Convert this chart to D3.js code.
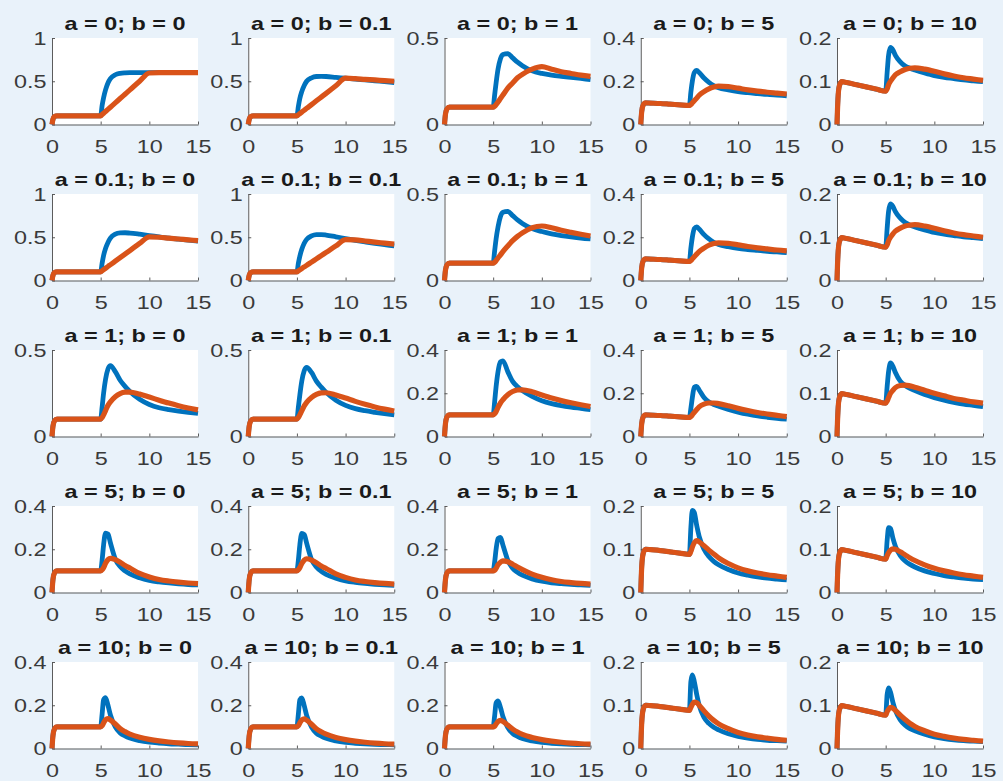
<!DOCTYPE html>
<html><head><meta charset="utf-8">
<script src="https://cdn.jsdelivr.net/npm/d3@7"></script>
<style>
body{margin:0;background:#e9f2fa;}
svg{display:block;}
</style>
</head><body>
<svg id="chart" width="1003" height="781"></svg>
<script>
// ---------------- data ----------------
const aValues = [0, 0.1, 1, 5, 10];
const bValues = [0, 0.1, 1, 5, 10];
const time = [0, 0.1, 0.25, 0.5, 1, 2, 3, 4, 5, 5.15, 5.3, 5.5, 5.75, 6, 6.5, 7, 7.5, 8, 9, 10, 11, 12, 13, 14, 15];
const xTicks = [0, 5, 10, 15];
const yTickSets = [[0, 0.5, 1], [0, 0.5], [0, 0.2, 0.4], [0, 0.1, 0.2]];
const yMaxA0 = [1, 1, 0.5, 0.4, 0.2];
const yMaxA01 = [1, 1, 0.5, 0.4, 0.2];
const yMaxA1 = [0.5, 0.5, 0.4, 0.4, 0.2];
const yMaxA5 = [0.4, 0.4, 0.4, 0.2, 0.2];
const yMaxA10 = [0.4, 0.4, 0.4, 0.2, 0.2];

// values before t = 5 (indices 0..8)
const earlyFlat = [0, 0.06, 0.09, 0.1, 0.1, 0.1, 0.1, 0.1, 0.1];
const earlyB5 = [0, 0.06, 0.09, 0.1, 0.099, 0.097, 0.094, 0.091, 0.088];
const earlyB10 = [0, 0.06, 0.09, 0.099, 0.097, 0.092, 0.087, 0.082, 0.077];

// a = 0
const blueA0 = [
  earlyFlat.concat([0.22,0.31,0.4,0.48,0.53,0.575,0.592,0.598,0.6,0.6,0.6,0.6,0.6,0.6,0.6,0.6]),
  earlyFlat.concat([0.21,0.3,0.38,0.45,0.5,0.54,0.555,0.557,0.555,0.545,0.535,0.525,0.515,0.505,0.495,0.485]),
  earlyFlat.concat([0.17,0.24,0.32,0.38,0.405,0.41,0.385,0.36,0.34,0.31,0.295,0.285,0.278,0.272,0.266,0.26]),
  earlyB5.concat([0.15,0.2,0.24,0.25,0.24,0.215,0.195,0.18,0.17,0.16,0.152,0.147,0.143,0.139,0.136,0.133]),
  earlyB10.concat([0.12,0.16,0.178,0.172,0.16,0.145,0.135,0.13,0.126,0.119,0.113,0.109,0.106,0.103,0.101,0.099])
];
const orangeA0 = [
  earlyFlat.concat([0.115,0.13,0.15,0.175,0.2,0.25,0.3,0.35,0.4,0.5,0.595,0.6,0.6,0.6,0.6,0.6]),
  earlyFlat.concat([0.113,0.126,0.143,0.165,0.187,0.23,0.274,0.317,0.36,0.448,0.535,0.53,0.522,0.515,0.507,0.5]),
  earlyFlat.concat([0.105,0.115,0.13,0.15,0.17,0.21,0.24,0.27,0.29,0.32,0.335,0.32,0.305,0.295,0.285,0.278]),
  earlyB5.concat([0.092,0.1,0.11,0.122,0.135,0.152,0.165,0.173,0.177,0.175,0.168,0.16,0.154,0.149,0.145,0.141]),
  earlyB10.concat([0.082,0.092,0.1,0.108,0.115,0.122,0.127,0.13,0.131,0.128,0.123,0.117,0.112,0.108,0.105,0.102])
];
// a = 0.1
const blueA01 = [
  earlyFlat.concat([0.2,0.29,0.37,0.44,0.49,0.535,0.55,0.552,0.548,0.535,0.52,0.505,0.49,0.478,0.466,0.455]),
  earlyFlat.concat([0.2,0.28,0.36,0.43,0.475,0.515,0.53,0.53,0.525,0.505,0.485,0.465,0.447,0.43,0.415,0.4]),
  earlyFlat.concat([0.17,0.24,0.31,0.37,0.395,0.4,0.375,0.35,0.33,0.3,0.283,0.27,0.26,0.252,0.245,0.24]),
  earlyB5.concat([0.15,0.2,0.24,0.248,0.238,0.212,0.192,0.177,0.167,0.156,0.148,0.143,0.139,0.135,0.132,0.129]),
  earlyB10.concat([0.12,0.16,0.177,0.171,0.159,0.144,0.134,0.128,0.124,0.117,0.111,0.107,0.104,0.101,0.099,0.097])
];
const orangeA01 = [
  earlyFlat.concat([0.112,0.125,0.141,0.162,0.182,0.223,0.264,0.305,0.346,0.428,0.505,0.5,0.49,0.48,0.47,0.46]),
  earlyFlat.concat([0.111,0.122,0.138,0.157,0.175,0.213,0.25,0.288,0.325,0.4,0.472,0.47,0.457,0.444,0.432,0.42]),
  earlyFlat.concat([0.105,0.115,0.13,0.148,0.167,0.2,0.23,0.255,0.275,0.305,0.315,0.305,0.29,0.278,0.267,0.257]),
  earlyB5.concat([0.092,0.1,0.11,0.122,0.134,0.15,0.163,0.171,0.174,0.172,0.165,0.157,0.151,0.146,0.141,0.137]),
  earlyB10.concat([0.082,0.092,0.1,0.108,0.114,0.121,0.126,0.128,0.129,0.126,0.121,0.115,0.11,0.106,0.103,0.1])
];
// a = 1
const blueA1 = [
  earlyFlat.concat([0.17,0.25,0.33,0.39,0.41,0.375,0.325,0.29,0.26,0.215,0.185,0.166,0.155,0.147,0.14,0.134]),
  earlyFlat.concat([0.17,0.24,0.32,0.38,0.4,0.37,0.32,0.285,0.255,0.21,0.18,0.161,0.149,0.14,0.132,0.125]),
  earlyFlat.concat([0.16,0.23,0.3,0.345,0.35,0.3,0.255,0.23,0.212,0.185,0.165,0.152,0.143,0.136,0.13,0.124]),
  earlyB5.concat([0.13,0.18,0.228,0.232,0.215,0.18,0.16,0.148,0.14,0.125,0.113,0.103,0.095,0.089,0.084,0.08]),
  earlyB10.concat([0.115,0.15,0.17,0.162,0.148,0.128,0.118,0.111,0.106,0.097,0.09,0.084,0.079,0.075,0.072,0.069])
];
const orangeA1 = [
  earlyFlat.concat([0.11,0.125,0.15,0.18,0.2,0.23,0.248,0.256,0.257,0.245,0.228,0.21,0.193,0.178,0.165,0.154]),
  earlyFlat.concat([0.11,0.125,0.148,0.177,0.197,0.225,0.243,0.252,0.253,0.24,0.222,0.203,0.186,0.171,0.158,0.147]),
  earlyFlat.concat([0.105,0.115,0.135,0.155,0.17,0.193,0.208,0.215,0.216,0.207,0.192,0.178,0.166,0.156,0.147,0.139]),
  earlyB5.concat([0.092,0.1,0.112,0.125,0.137,0.15,0.155,0.155,0.152,0.142,0.13,0.12,0.111,0.104,0.098,0.092]),
  earlyB10.concat([0.082,0.09,0.1,0.107,0.113,0.118,0.119,0.117,0.114,0.107,0.1,0.094,0.088,0.084,0.08,0.077])
];
// a = 5
const blueA5 = [
  earlyFlat.concat([0.15,0.22,0.275,0.27,0.23,0.155,0.12,0.1,0.086,0.068,0.056,0.049,0.044,0.04,0.037,0.035]),
  earlyFlat.concat([0.15,0.22,0.273,0.268,0.228,0.153,0.118,0.098,0.084,0.066,0.054,0.047,0.042,0.038,0.035,0.033]),
  earlyFlat.concat([0.14,0.2,0.25,0.255,0.22,0.15,0.112,0.093,0.08,0.063,0.052,0.045,0.041,0.038,0.035,0.033]),
  earlyB5.concat([0.15,0.19,0.185,0.155,0.13,0.1,0.083,0.072,0.064,0.053,0.045,0.04,0.036,0.033,0.031,0.029]),
  earlyB10.concat([0.12,0.15,0.148,0.125,0.107,0.085,0.073,0.065,0.059,0.05,0.044,0.039,0.036,0.033,0.031,0.03])
];
const orangeA5 = [
  earlyFlat.concat([0.105,0.115,0.135,0.152,0.158,0.152,0.14,0.125,0.113,0.088,0.072,0.06,0.053,0.048,0.044,0.041]),
  earlyFlat.concat([0.105,0.115,0.134,0.15,0.156,0.15,0.138,0.123,0.111,0.086,0.07,0.058,0.051,0.046,0.042,0.039]),
  earlyFlat.concat([0.103,0.112,0.128,0.14,0.146,0.142,0.131,0.118,0.106,0.085,0.07,0.059,0.051,0.046,0.042,0.039]),
  earlyB5.concat([0.095,0.105,0.115,0.12,0.117,0.108,0.098,0.089,0.08,0.067,0.057,0.05,0.045,0.041,0.038,0.035]),
  earlyB10.concat([0.085,0.092,0.098,0.101,0.1,0.094,0.087,0.08,0.074,0.064,0.056,0.05,0.045,0.041,0.038,0.035])
];
// a = 10
const blueA10 = [
  earlyFlat.concat([0.16,0.225,0.235,0.2,0.155,0.1,0.072,0.058,0.048,0.036,0.029,0.025,0.022,0.02,0.018,0.017]),
  earlyFlat.concat([0.16,0.225,0.234,0.198,0.153,0.099,0.071,0.057,0.047,0.035,0.028,0.024,0.021,0.019,0.018,0.017]),
  earlyFlat.concat([0.15,0.21,0.22,0.19,0.148,0.097,0.07,0.056,0.046,0.035,0.028,0.024,0.021,0.019,0.018,0.017]),
  earlyB5.concat([0.155,0.17,0.155,0.125,0.1,0.072,0.058,0.049,0.043,0.034,0.028,0.024,0.021,0.019,0.018,0.017]),
  earlyB10.concat([0.125,0.14,0.13,0.106,0.088,0.066,0.054,0.046,0.041,0.033,0.027,0.023,0.02,0.018,0.017,0.016])
];
const orangeA10 = [
  earlyFlat.concat([0.105,0.118,0.133,0.138,0.132,0.113,0.092,0.078,0.067,0.052,0.042,0.035,0.03,0.026,0.023,0.021]),
  earlyFlat.concat([0.105,0.118,0.132,0.137,0.131,0.112,0.091,0.077,0.066,0.051,0.041,0.034,0.029,0.025,0.022,0.02]),
  earlyFlat.concat([0.103,0.113,0.125,0.13,0.125,0.108,0.09,0.076,0.065,0.051,0.041,0.034,0.029,0.025,0.022,0.02]),
  earlyB5.concat([0.095,0.102,0.107,0.106,0.1,0.087,0.075,0.065,0.057,0.046,0.037,0.031,0.027,0.024,0.021,0.019]),
  earlyB10.concat([0.085,0.091,0.095,0.093,0.088,0.077,0.067,0.058,0.051,0.041,0.033,0.028,0.024,0.021,0.019,0.017])
];

const blueRows = [blueA0, blueA01, blueA1, blueA5, blueA10];
const orangeRows = [orangeA0, orangeA01, orangeA1, orangeA5, orangeA10];
const yMaxRows = [yMaxA0, yMaxA01, yMaxA1, yMaxA5, yMaxA10];

// ---------------- layout ----------------
const colLeft0 = 52, colStep = 196.25, plotW = 146;
const rowTop0 = 38, rowStep = 156, plotH = 86.5;
const blueColor = "#0072BD", orangeColor = "#D95319";
const textColor = "#3a3a3a", axisColor = "#4a4a4a";
const fontFam = "'Liberation Sans', Arial, Helvetica, sans-serif";
const stretch = 1.3;

const svg = d3.select("#chart");
svg.append("rect").attr("width", 1003).attr("height", 781).attr("fill", "#e9f2fa");

aValues.forEach((a, r) => {
  bValues.forEach((b, c) => {
    const left = colLeft0 + c * colStep;
    const top = rowTop0 + r * rowStep;
    const ymax = yMaxRows[r][c];
    const x = d3.scaleLinear().domain([0, 15]).range([0, plotW]);
    const y = d3.scaleLinear().domain([0, ymax]).range([plotH, 0]);
    const yt = yTickSets.find(s => s[s.length - 1] === ymax);

    const g = svg.append("g").attr("transform", `translate(${left},${top})`);
    g.append("rect").attr("width", plotW).attr("height", plotH).attr("fill", "#ffffff");

    const gx = g.append("g").attr("transform", `translate(0,${plotH})`)
      .call(d3.axisBottom(x).tickValues(xTicks).tickFormat(d => String(d))
        .tickSize(-3).tickSizeOuter(0).tickPadding(15.5));
    const gy = g.append("g")
      .call(d3.axisLeft(y).tickValues(yt).tickFormat(d => String(d))
        .tickSize(-3).tickSizeOuter(0).tickPadding(5));

    [gx, gy].forEach(ax => {
      ax.select(".domain").attr("stroke", axisColor).attr("stroke-width", 0.9);
      ax.selectAll(".tick line").attr("stroke", axisColor).attr("stroke-width", 0.9);
      ax.selectAll(".tick text").attr("fill", textColor)
        .style("font-family", fontFam).style("font-size", "18px");
    });
    gx.selectAll(".tick text").attr("transform", `scale(${stretch},1)`).attr("dy", "0.71em");
    gy.selectAll(".tick text").attr("x", -5.5 / stretch).attr("dy", "0.34em")
      .attr("transform", `scale(${stretch},1)`);

    g.append("text")
      .attr("transform", `translate(${plotW / 2},-8) scale(${stretch},1)`)
      .attr("text-anchor", "middle")
      .style("font-family", fontFam).style("font-size", "18px").style("font-weight", "bold")
      .attr("fill", "#1a1a1a")
      .text(`a = ${a}; b = ${b}`);

    const line = d3.line().x((d, i) => x(time[i])).y(d => y(d)).curve(d3.curveMonotoneX);
    g.append("path").datum(blueRows[r][c]).attr("d", line)
      .attr("fill", "none").attr("stroke", blueColor).attr("stroke-width", 4.8)
      .attr("stroke-linejoin", "round");
    g.append("path").datum(orangeRows[r][c]).attr("d", line)
      .attr("fill", "none").attr("stroke", orangeColor).attr("stroke-width", 5.2)
      .attr("stroke-linejoin", "round");
  });
});
</script>
</body></html>
